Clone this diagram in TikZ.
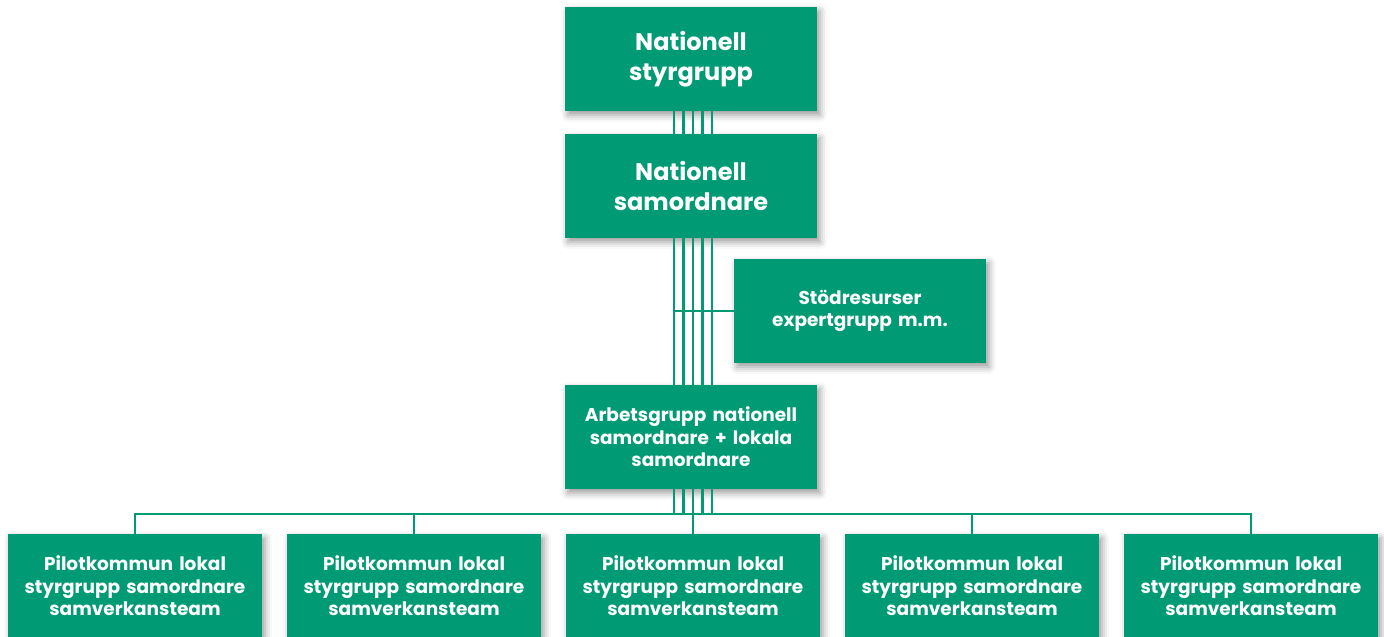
\documentclass[tikz,border=0pt]{standalone}
\usepackage{fontspec}
\setmainfont{Poppins}
\usepackage{tikz}
\usetikzlibrary{shapes.geometric,shadows.blur}
\definecolor{orggreen}{RGB}{0,155,116}
\tikzstyle{box} = [rectangle, fill=orggreen, text=white, font=\bfseries\fontsize{24pt}{30pt}\selectfont,
  text width=232pt, inner sep=10pt, text centered, minimum height=104pt,
  blur shadow={shadow xshift=3pt, shadow yshift=-4pt, shadow blur radius=7pt, shadow opacity=40}]
\tikzstyle{smallbox} = [box, font=\bfseries\fontsize{18.5pt}{22.5pt}\selectfont]
\tikzstyle{pilot} = [smallbox, text width=234pt]
\tikzstyle{link} = [draw=orggreen, line width=2.4pt]

\begin{document}
\begin{tikzpicture}[node distance=127pt]
    \useasboundingbox (-691pt,59pt) rectangle (693pt,-578pt);
    \node[box] (styr) {Nationell\\styrgrupp};
    \node[box, below of=styr] (samord) {Nationell\\samordnare};
    \node[smallbox, below of=samord, node distance=125pt, xshift=169pt] (stod) {Stödresurser\\expertgrupp m.m.};
    \node[smallbox, below of=samord, node distance=251pt] (arbets) {Arbetsgrupp nationell\\samordnare + lokala\\samordnare};

    \node[pilot, below of=arbets, node distance=149pt, xshift=2pt] (p3) {Pilotkommun lokal\\styrgrupp samordnare\\samverkansteam};
    \node[pilot, left of=p3, node distance=279pt] (p2) {Pilotkommun lokal\\styrgrupp samordnare\\samverkansteam};
    \node[pilot, left of=p2, node distance=279pt] (p1) {Pilotkommun lokal\\styrgrupp samordnare\\samverkansteam};
    \node[pilot, right of=p3, node distance=279pt] (p4) {Pilotkommun lokal\\styrgrupp samordnare\\samverkansteam};
    \node[pilot, right of=p4, node distance=279pt] (p5) {Pilotkommun lokal\\styrgrupp samordnare\\samverkansteam};

    \coordinate (leftline) at ([xshift=-17pt]samord.south);
    \coordinate (bar) at ([yshift=-25pt]arbets.south);

    \foreach \d in {-17,-7.5,2,11.5,21} {
      \path[link] ([xshift=\d pt]styr.south) -- ([xshift=\d pt]samord.north);
      \path[link] ([xshift=\d pt]samord.south) -- ([xshift=\d pt]arbets.north);
      \path[link] ([xshift=\d pt]arbets.south) -- ([xshift=\d pt]bar);
    }
    \path[link] (stod.west) -- (stod.west -| leftline);
    \path[link] (p1.north) |- (bar) -| (p5.north);
    \path[link] (p2.north |- bar) -- (p2.north);
    \path[link] (p3.north |- bar) -- (p3.north);
    \path[link] (p4.north |- bar) -- (p4.north);
  \end{tikzpicture}
\end{document}
